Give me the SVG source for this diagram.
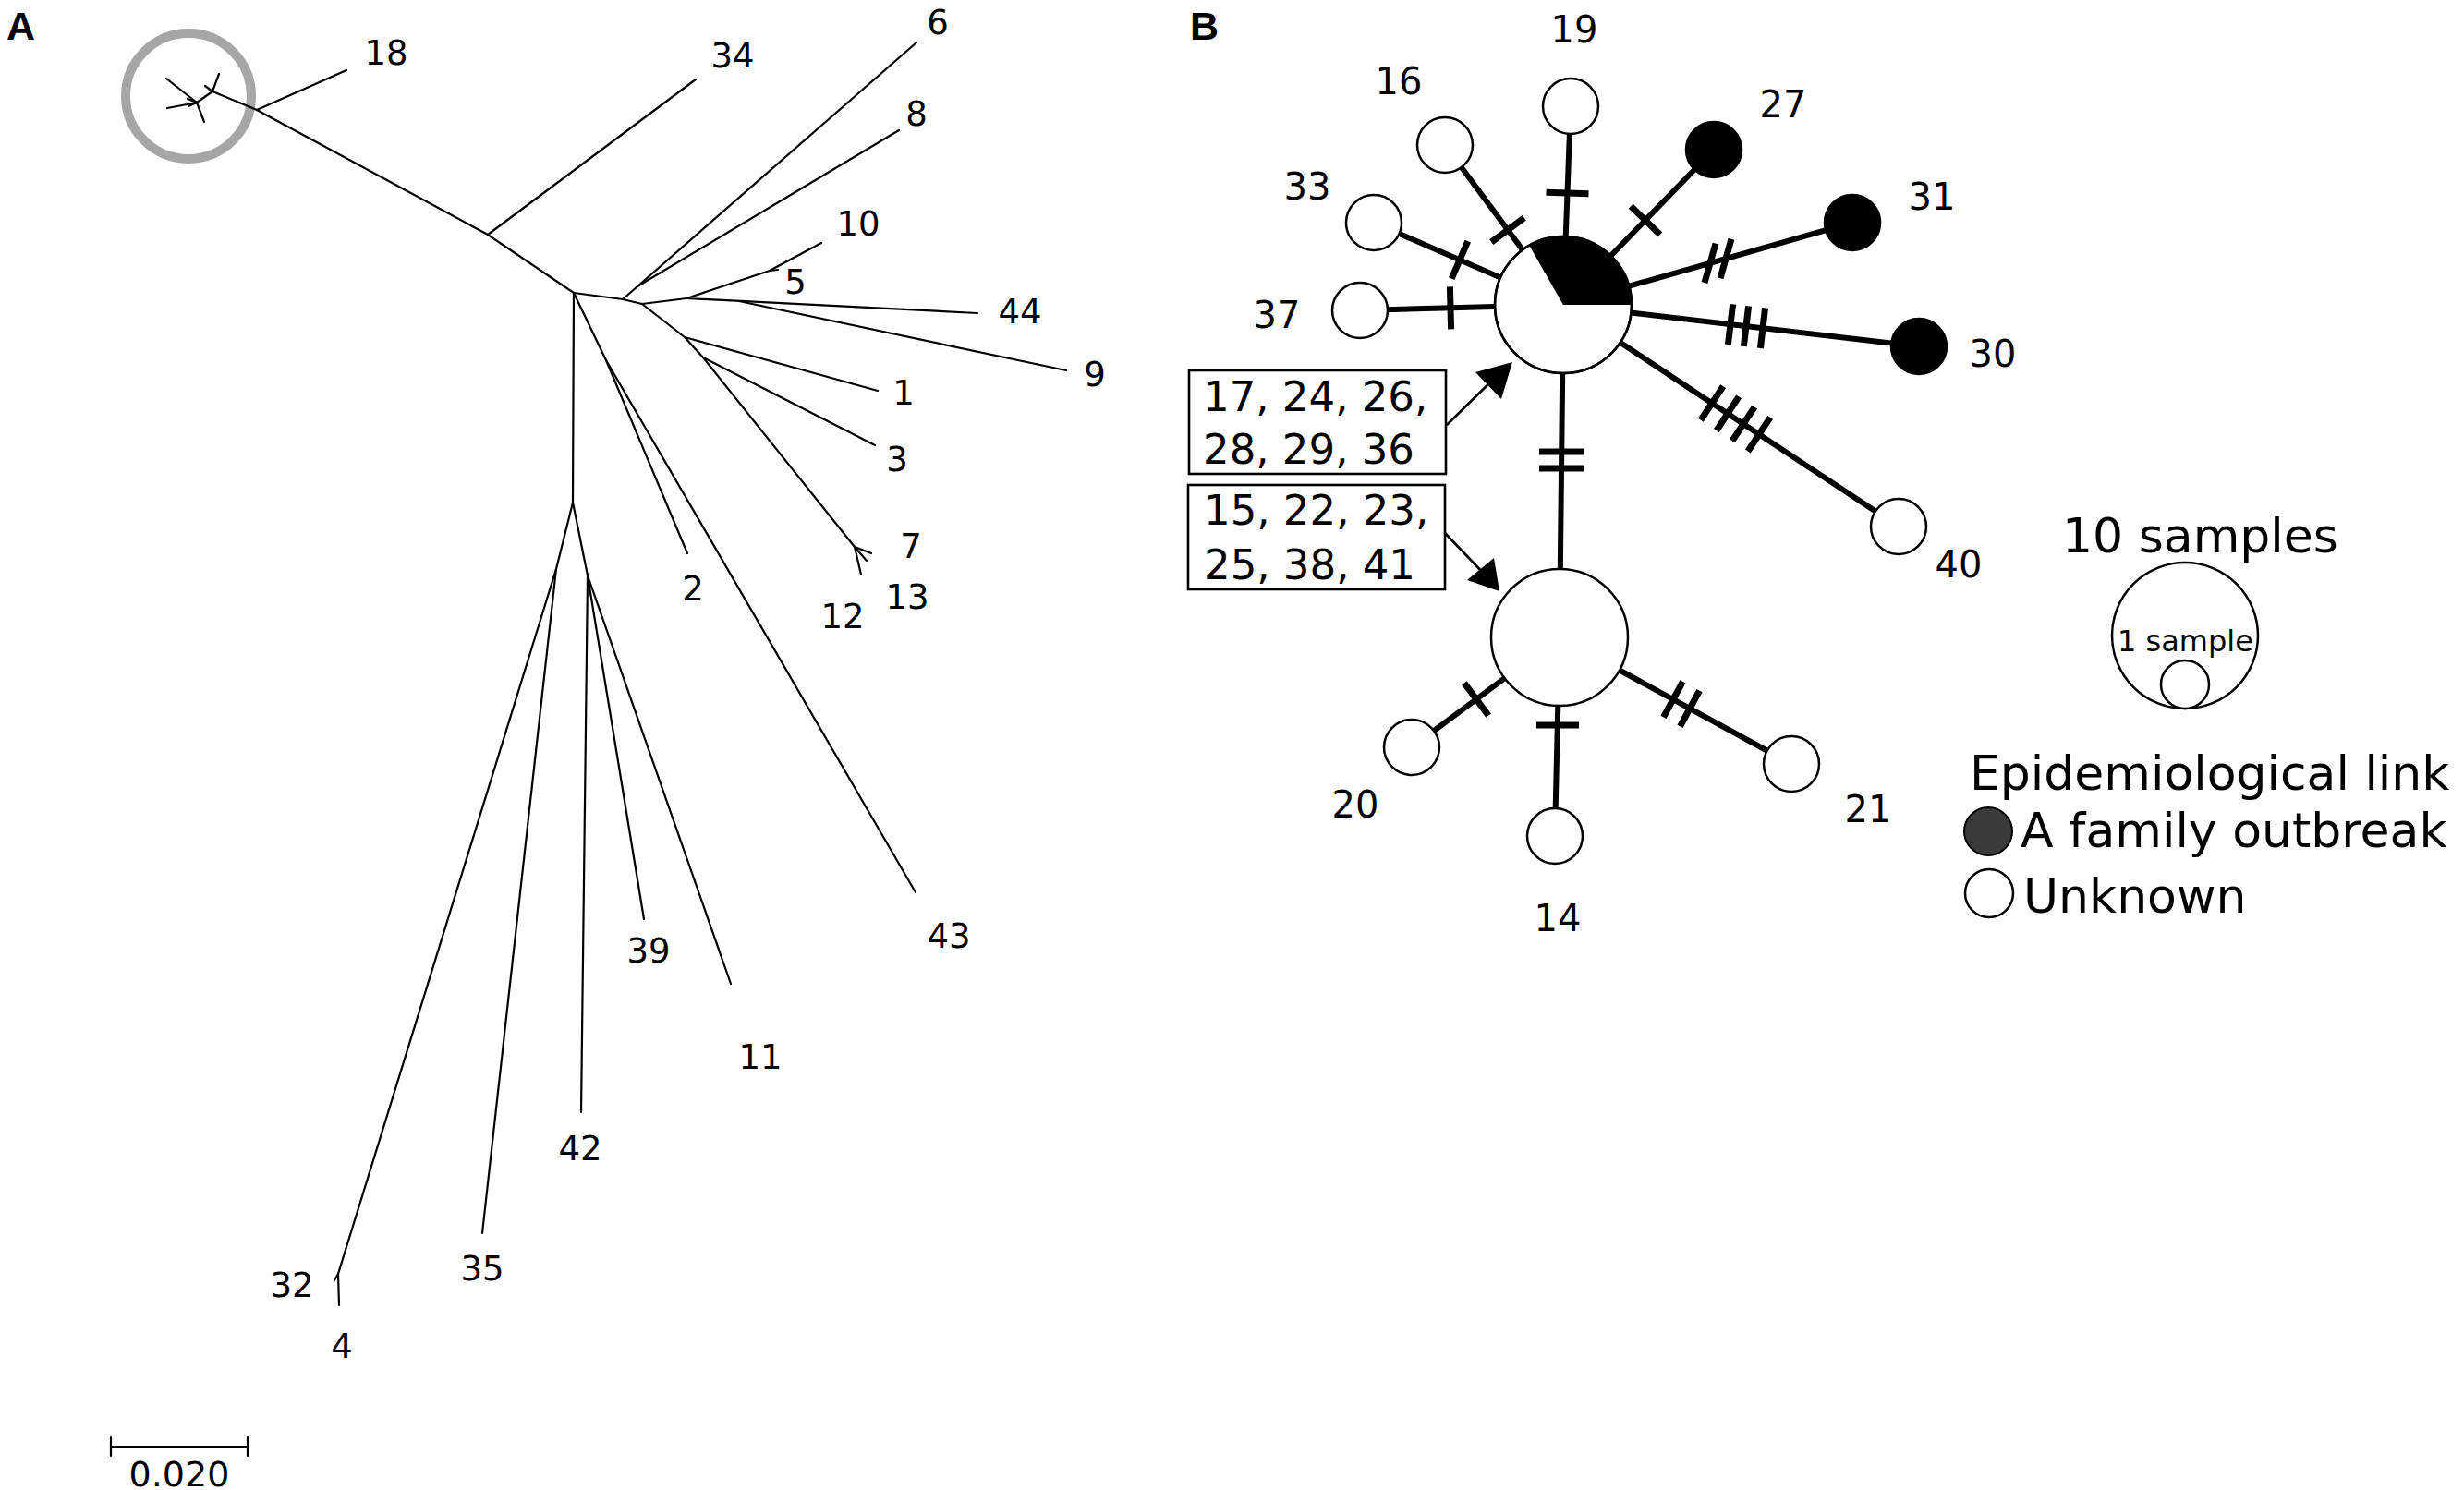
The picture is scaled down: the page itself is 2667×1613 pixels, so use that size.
<svg xmlns="http://www.w3.org/2000/svg" width="2667" height="1613" viewBox="0 0 2667 1613">
<style>
text{font-family:"DejaVu Sans","Liberation Sans",sans-serif;fill:#000}
.panel{font-family:"Liberation Sans",Arial,sans-serif;font-weight:bold;font-size:43px}
.ta{font-size:37px;text-anchor:middle}
.tb{font-size:40px;text-anchor:middle}
.box{font-size:45px}
.leg{font-size:52px}
.br{stroke:#000;stroke-width:2.2;fill:none;stroke-linecap:round;stroke-linejoin:round}
.edge{stroke:#000;stroke-width:6;fill:none}
.tick{stroke:#000;stroke-width:7;fill:none}
.nd{fill:#fff;stroke:#000;stroke-width:2.5}
.ndk{fill:#000;stroke:#000;stroke-width:2.5}
.bx{fill:#fff;stroke:#000;stroke-width:2.6}
.arr{stroke:#000;stroke-width:2.6;fill:none}
</style>
<rect width="2667" height="1613" fill="#fff"/>

<text class="panel" x="7" y="43">A</text>
<text class="panel" x="1288" y="43">B</text>

<!-- Panel A: unrooted tree -->
<g id="tree-a">
<circle cx="204" cy="104" r="68" fill="none" stroke="#a6a6a6" stroke-width="10"/>
<g id="branches" class="br">
<path d="M278,119 L375,76"/>
<path d="M278,119 L230,99 L237,80"/>
<path d="M230,99 L222,93"/>
<path d="M230,99 L213,111"/>
<path d="M213,111 L180,85"/>
<path d="M213,111 L181,117"/>
<path d="M213,111 L221,132"/>
<path d="M213,111 L203,107"/>
<path d="M213,111 L204,115"/>
<path d="M278,119 L528,254 L621,317"/>
<path d="M528,254 L753,86"/>
<path d="M621,317 L674,324 L695,329"/>
<path d="M674,324 L992,46"/>
<path d="M690,310 L973,141"/>
<path d="M695,329 L743,323 L833,293 L889,263"/>
<path d="M833,293 L842,292"/>
<path d="M743,323 L1058,339"/>
<path d="M800,326 L1154,401"/>
<path d="M695,329 L741,365 L761,387 L925,592"/>
<path d="M741,365 L950,423"/>
<path d="M761,387 L947,482"/>
<path d="M925,592 L943,599"/>
<path d="M925,592 L938,607"/>
<path d="M925,592 L932,622"/>
<path d="M621,317 L656,390 L744,599"/>
<path d="M656,390 L991,966"/>
<path d="M621,317 L620,544"/>
<path d="M620,544 L602,616 L366,1379"/>
<path d="M602,616 L522,1335"/>
<path d="M366,1379 L362,1386"/>
<path d="M366,1379 L367,1413"/>
<path d="M620,544 L636,623 L629,1204"/>
<path d="M636,623 L697,995"/>
<path d="M636,623 L791,1065"/>
</g>
<g id="tip-labels">
<text class="ta" x="418" y="70">18</text>
<text class="ta" x="793" y="73">34</text>
<text class="ta" x="1015" y="37">6</text>
<text class="ta" x="992" y="136">8</text>
<text class="ta" x="929" y="255">10</text>
<text class="ta" x="861" y="318">5</text>
<text class="ta" x="1104" y="350">44</text>
<text class="ta" x="1185" y="418">9</text>
<text class="ta" x="978" y="438">1</text>
<text class="ta" x="971" y="510">3</text>
<text class="ta" x="986" y="604">7</text>
<text class="ta" x="982" y="659">13</text>
<text class="ta" x="912" y="680">12</text>
<text class="ta" x="750" y="650">2</text>
<text class="ta" x="1027" y="1026">43</text>
<text class="ta" x="702" y="1042">39</text>
<text class="ta" x="823" y="1157">11</text>
<text class="ta" x="628" y="1256">42</text>
<text class="ta" x="522" y="1386">35</text>
<text class="ta" x="316" y="1404">32</text>
<text class="ta" x="370" y="1470">4</text>
</g>
<g id="scale-bar">
<path class="br" d="M120,1556 L120,1576 M120,1566 L268,1566 M268,1556 L268,1576"/>
<text x="194" y="1609" font-size="38" text-anchor="middle">0.020</text>
</g>
</g>

<!-- Panel B: haplotype network -->
<g id="connectors">
<path class="edge" d="M1692,330 L1700,115"/>
<path class="edge" d="M1692,330 L1564,157"/>
<path class="edge" d="M1692,330 L1487,241"/>
<path class="edge" d="M1692,330 L1472,336"/>
<path class="edge" d="M1692,330 L1855,162"/>
<path class="edge" d="M1692,330 L2005,241"/>
<path class="edge" d="M1692,330 L2077,375"/>
<path class="edge" d="M1692,330 L2055,570"/>
<path class="edge" d="M1692,330 L1688,690"/>
<path class="edge" d="M1688,690 L1528,809"/>
<path class="edge" d="M1688,690 L1683,905"/>
<path class="edge" d="M1688,690 L1939,827"/>
<g id="mutation-ticks" class="tick">
<path d="M1673.5,208.2 L1719.5,209.8"/>
<path d="M1649.7,235.9 L1614.3,262.1"/>
<path d="M1588.8,261.2 L1571.2,301.6"/>
<path d="M1569.4,310.3 L1570.6,356.3"/>
<path d="M1796.8,253.9 L1765.2,223.3"/>
<path d="M1845,306 L1857,263.6 M1862,301.2 L1874,258.8"/>
<path d="M1875.6,329.4 L1870.4,373 M1892.6,331.3 L1887.4,374.9 M1910.6,333.4 L1905.4,377"/>
<path d="M1865.1,418.1 L1840.9,454.7 M1882.1,429.4 L1857.9,466 M1899.1,440.6 L1874.9,477.2 M1916.1,451.9 L1891.9,488.5"/>
<path d="M1666,489 L1714,489 M1666,507 L1714,507"/>
<path d="M1611.1,774.6 L1584.9,739.4"/>
<path d="M1663,785 L1709,785"/>
<path d="M1821.5,737.8 L1800.5,776.4 M1839.5,747.7 L1818.5,786.3"/>
</g>
<path class="arr" d="M1566,460 L1622,405"/>
<path d="M1637,392 L1597,403 L1625,432 Z" fill="#000"/>
<path class="arr" d="M1564,577 L1608,623"/>
<path d="M1623,640 L1588,628 L1617,604 Z" fill="#000"/>
</g>

<g id="node-main">
<circle class="nd" cx="1692" cy="330" r="74"/>
<path d="M1692,330 L1655.3,265.8 A74,74 0 0 1 1766,330 Z" fill="#000"/>
<circle cx="1692" cy="330" r="74" fill="none" stroke="#000" stroke-width="2.5"/>
</g>
<g id="node-hub2"><circle class="nd" cx="1688" cy="690" r="74"/></g>
<g id="node-19"><circle class="nd" cx="1700" cy="115" r="30"/><text class="tb" x="1704" y="46">19</text></g>
<g id="node-16"><circle class="nd" cx="1564" cy="157" r="30"/><text class="tb" x="1514" y="102">16</text></g>
<g id="node-33"><circle class="nd" cx="1487" cy="241" r="30"/><text class="tb" x="1415" y="216">33</text></g>
<g id="node-37"><circle class="nd" cx="1472" cy="336" r="30"/><text class="tb" x="1382" y="355">37</text></g>
<g id="node-27"><circle class="ndk" cx="1855" cy="162" r="30"/><text class="tb" x="1930" y="127">27</text></g>
<g id="node-31"><circle class="ndk" cx="2005" cy="241" r="30"/><text class="tb" x="2091" y="227">31</text></g>
<g id="node-30"><circle class="ndk" cx="2077" cy="375" r="30"/><text class="tb" x="2157" y="397">30</text></g>
<g id="node-40"><circle class="nd" cx="2055" cy="570" r="30"/><text class="tb" x="2120" y="625">40</text></g>
<g id="node-20"><circle class="nd" cx="1528" cy="809" r="30"/><text class="tb" x="1467" y="885">20</text></g>
<g id="node-14"><circle class="nd" cx="1683" cy="905" r="30"/><text class="tb" x="1686" y="1008">14</text></g>
<g id="node-21"><circle class="nd" cx="1939" cy="827" r="30"/><text class="tb" x="2022" y="890">21</text></g>

<g id="box-1">
<rect class="bx" x="1287" y="401" width="278" height="112"/>
<text class="box" x="1302" y="445">17, 24, 26,</text>
<text class="box" x="1302" y="502">28, 29, 36</text>
</g>
<g id="box-2">
<rect class="bx" x="1286" y="525" width="278" height="113"/>
<text class="box" x="1303" y="568">15, 22, 23,</text>
<text class="box" x="1303" y="627">25, 38, 41</text>
</g>

<g id="legend-size">
<text class="leg" x="2232" y="598">10 samples</text>
<circle class="nd" cx="2365" cy="688" r="79"/>
<circle class="nd" cx="2365" cy="741" r="26"/>
<text x="2292" y="705" font-size="32">1 sample</text>
</g>
<g id="legend-link">
<text class="leg" x="2132" y="855">Epidemiological link</text>
<circle cx="2152" cy="900" r="26" fill="#3a3a3a" stroke="#000" stroke-width="2"/>
<text class="leg" x="2187" y="917">A family outbreak</text>
<circle class="nd" cx="2153" cy="967" r="26"/>
<text class="leg" x="2190" y="988">Unknown</text>
</g>
</svg>
